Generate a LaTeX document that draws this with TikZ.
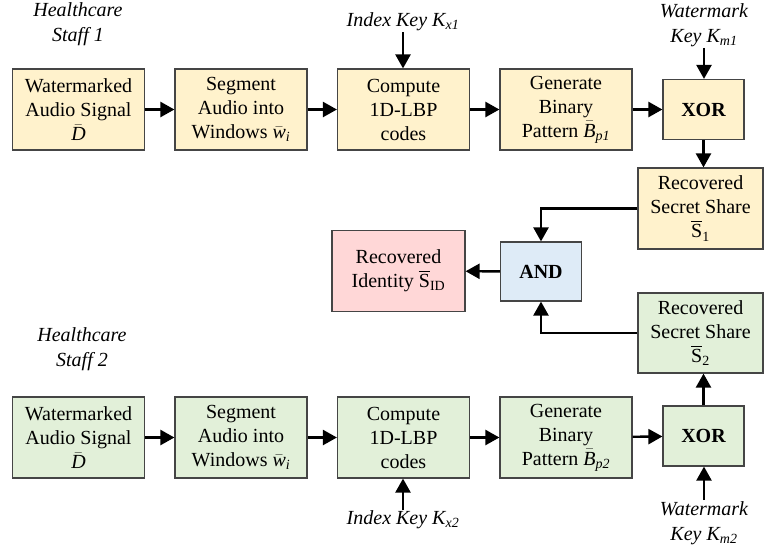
\documentclass[tikz,border=0pt]{standalone}
\usepackage{amsmath}
\usepackage{fontspec}
\setmainfont{Liberation Serif}
\usetikzlibrary{arrows.meta}

\definecolor{yel}{HTML}{FFF2CC}
\definecolor{grn}{HTML}{E2F0D9}
\definecolor{blu}{HTML}{DEEBF7}
\definecolor{pnk}{HTML}{FFD7D7}
\definecolor{edge}{HTML}{454545}

\begin{document}
\begin{tikzpicture}[x=1pt,y=-1pt,
    font=\fontsize{20}{24}\selectfont,
    box/.style={draw=edge,line width=1.2pt,align=center,inner sep=0pt,
        minimum width=132pt,minimum height=81pt},
    gate/.style={box,font=\fontsize{20}{24}\selectfont\bfseries,
        minimum width=81pt,minimum height=60pt},
    key/.style={align=center,inner sep=1pt,font=\fontsize{20}{25}\selectfont\itshape},
    arr/.style={line width=2.4pt,-{Triangle[length=14pt,width=15pt]}}]
    \useasboundingbox (0,0) rectangle (764,550);
    % staff 1
    \node[key] (st1) at (78,24) {Healthcare\\Staff 1};
    \node[box,fill=yel] (a1) at (78.5,109.5) {Watermarked\\Audio Signal\\$\bar{\textit{D}}$};
    \node[box,fill=yel] (a2) at (241,109.5) {Segment\\Audio into\\Windows $\bar{\textit{w}}_{\textit{i}}$};
    \node[box,fill=yel] (a3) at (403.5,109.5) {Compute\\1D-LBP\\codes};
    \node[box,fill=yel] (a4) at (566,109.5) {Generate\\Binary\\Pattern $\bar{\textit{B}}_{\textit{p1}}$};
    \node[gate,fill=yel] (x1) at (703.5,109.5) {XOR};
    \node[key] (kx1) at (403,22) {Index Key K$_{\textit{x1}}$};
    \node[key] (km1) at (704,25) {Watermark\\Key K$_{\textit{m1}}$};
    \node[box,fill=yel,minimum width=125pt] (s1) at (700.5,208.5) {Recovered\\Secret Share\\$\overline{\text{S}}_{\text{1}}$};
    % combine
    \node[gate,fill=blu,minimum height=59pt] (and) at (541,271.5) {AND};
    \node[box,fill=pnk,minimum width=133pt] (id) at (398.5,271) {Recovered\\Identity $\overline{\text{S}}_{\text{ID}}$};
    % staff 2
    \node[key] (st2) at (82,349) {Healthcare\\Staff 2};
    \node[box,fill=grn] (c1) at (78.5,437.5) {Watermarked\\Audio Signal\\$\bar{\textit{D}}$};
    \node[box,fill=grn] (c2) at (241,437.5) {Segment\\Audio into\\Windows $\bar{\textit{w}}_{\textit{i}}$};
    \node[box,fill=grn] (c3) at (403.5,437.5) {Compute\\1D-LBP\\codes};
    \node[box,fill=grn] (c4) at (566,437.5) {Generate\\Binary\\Pattern $\bar{\textit{B}}_{\textit{p2}}$};
    \node[gate,fill=grn] (x2) at (703.5,436) {XOR};
    \node[key] (kx2) at (403,520) {Index Key K$_{\textit{x2}}$};
    \node[key] (km2) at (704,523) {Watermark\\Key K$_{\textit{m2}}$};
    \node[box,fill=grn,minimum width=125pt,minimum height=80pt] (s2) at (700.5,333) {Recovered\\Secret Share\\$\overline{\text{S}}_{\text{2}}$};
    % arrows
    \draw[arr] (a1) -- (a2);
    \draw[arr] (a2) -- (a3);
    \draw[arr] (a3) -- (a4);
    \draw[arr] (a4) -- (x1);
    \draw[arr] (kx1) -- (kx1 |- a3.north);
    \draw[arr] (km1) -- (km1 |- x1.north);
    \draw[arr] (x1) -- (x1 |- s1.north);
    \draw[arr] (s1.west) -| (and.north);
    \draw[arr] (and) -- (id);
    \draw[arr] (s2.west) -| (and.south);
    \draw[arr] (c1) -- (c2);
    \draw[arr] (c2) -- (c3);
    \draw[arr] (c3) -- (c4);
    \draw[arr] (c4) -- (x2);
    \draw[arr] (kx2) -- (kx2 |- c3.south);
    \draw[arr] (km2) -- (km2 |- x2.south);
    \draw[arr] (x2) -- (x2 |- s2.south);
\end{tikzpicture}
\end{document}
